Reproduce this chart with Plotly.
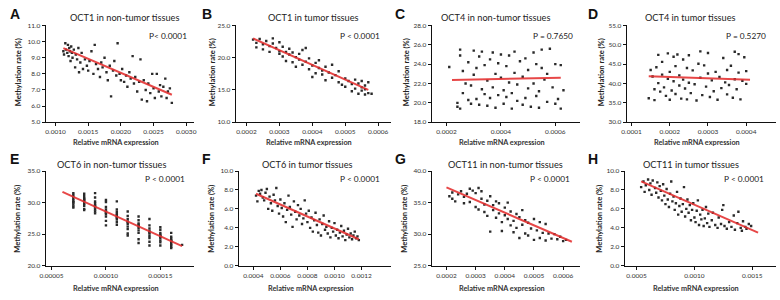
import plotly.graph_objects as go

W, H = 780, 300
FONT = "Lato"

# ---------------- data ----------------
A_pts = [(0.00112,9.4),(0.00113,9.2),(0.00115,9.9),(0.00116,9.5),(0.00118,9.3),(0.00119,9.8),(0.00120,9.1),
         (0.00121,9.6),(0.00122,9.4),(0.00123,8.8),(0.00124,9.7),(0.00125,9.3),(0.00126,9.0),(0.00128,9.5),
         (0.00130,8.4),(0.00131,9.2),(0.00133,8.9),(0.00135,9.6),(0.00136,8.1),(0.00138,8.7),(0.00140,9.3),
         (0.00142,8.3),(0.00145,8.9),(0.00148,8.5),(0.00150,8.2),(0.00152,8.8),(0.00155,9.4),(0.00158,8.0),
         (0.00160,9.8),(0.00162,8.6),(0.00165,8.3),(0.00168,7.8),(0.00170,8.7),(0.00172,8.4),(0.00175,9.0),
         (0.00178,8.1),(0.00180,7.6),(0.00183,8.5),(0.00185,6.6),(0.00188,8.2),(0.00190,8.8),(0.00193,7.9),
         (0.00195,9.9),(0.00198,8.0),(0.00200,7.6),(0.00202,8.3),(0.00205,7.5),(0.00208,7.9),(0.00210,7.2),
         (0.00213,8.1),(0.00215,7.7),(0.00218,9.1),(0.00220,7.4),(0.00222,7.8),(0.00225,6.9),(0.00228,7.5),
         (0.00230,8.9),(0.00232,6.4),(0.00235,7.6),(0.00238,7.0),(0.00240,6.3),(0.00242,7.4),(0.00245,6.8),
         (0.00248,8.0),(0.00250,7.1),(0.00252,6.5),(0.00255,8.0),(0.00258,6.9),(0.00260,7.3),(0.00262,6.6),
         (0.00265,7.2),(0.00268,7.7),(0.00270,6.5),(0.00272,6.9),(0.00275,7.1),(0.00278,6.2)]
A_fit_x = [0.00112, 0.00278]
A_fit_y = [9.6, 6.7]

B_pts = [(0.00022,22.8),(0.00023,22.3),(0.00023,21.6),(0.00024,22.9),(0.00025,22.1),(0.00025,21.3),(0.00026,22.6),
         (0.00027,21.8),(0.00027,20.9),(0.00028,23.0),(0.00028,22.2),(0.00029,21.5),(0.00030,20.6),(0.00030,22.4),
         (0.00030,21.0),(0.00031,20.2),(0.00031,21.7),(0.00032,19.5),(0.00032,20.9),(0.00033,21.4),(0.00033,20.5),
         (0.00034,19.3),(0.00034,20.8),(0.00035,20.1),(0.00035,18.6),(0.00036,19.7),(0.00036,20.6),(0.00037,21.2),
         (0.00037,18.9),(0.00038,19.4),(0.00038,21.5),(0.00039,18.2),(0.00039,19.9),(0.00040,17.0),(0.00040,18.8),
         (0.00041,19.2),(0.00041,17.6),(0.00042,18.4),(0.00042,19.6),(0.00043,17.4),(0.00043,18.0),(0.00044,16.5),
         (0.00044,18.6),(0.00045,17.7),(0.00046,18.9),(0.00046,16.9),(0.00047,17.3),(0.00048,16.2),(0.00048,17.9),
         (0.00049,15.8),(0.00050,16.8),(0.00050,15.5),(0.00051,16.4),(0.00052,14.8),(0.00052,15.9),(0.00053,16.6),
         (0.00053,15.2),(0.00054,14.4),(0.00054,16.0),(0.00055,15.4),(0.00055,14.9),(0.00055,16.4),(0.00056,14.3),
         (0.00056,15.7),(0.00056,15.1),(0.00057,14.5),(0.00057,16.2),(0.00058,14.4)]
B_fit_x = [0.00022, 0.00057]
B_fit_y = [23.0, 15.0]

C_pts = [(0.00021,23.7),(0.00024,20.0),(0.00024,19.6),(0.00025,19.4),(0.00025,24.9),(0.00025,25.5),(0.00026,23.3),
         (0.00026,21.0),(0.00027,22.0),(0.00028,24.2),(0.00028,20.3),(0.00029,21.8),(0.00029,19.9),(0.00030,25.4),
         (0.00030,22.9),(0.00031,20.4),(0.00031,23.6),(0.00032,19.8),(0.00032,24.8),(0.00033,21.4),(0.00033,25.3),
         (0.00034,20.9),(0.00034,23.9),(0.00035,19.7),(0.00035,22.3),(0.00036,24.5),(0.00036,20.5),(0.00037,25.2),
         (0.00037,21.6),(0.00038,23.0),(0.00038,19.5),(0.00039,24.1),(0.00039,20.8),(0.00040,22.6),(0.00040,25.0),
         (0.00041,21.3),(0.00041,19.9),(0.00042,23.8),(0.00042,20.6),(0.00043,24.9),(0.00043,22.1),(0.00044,19.4),
         (0.00044,21.0),(0.00045,25.3),(0.00045,23.1),(0.00046,20.2),(0.00046,21.9),(0.00047,24.3),(0.00048,19.8),
         (0.00048,22.7),(0.00049,24.6),(0.00049,20.5),(0.00050,21.5),(0.00050,23.4),(0.00051,19.6),(0.00052,25.2),
         (0.00052,22.0),(0.00053,20.7),(0.00053,24.0),(0.00054,21.2),(0.00054,19.5),(0.00055,23.6),(0.00055,25.5),
         (0.00056,22.4),(0.00057,20.1),(0.00057,23.0),(0.00058,25.6),(0.00059,21.6),(0.00060,19.9),(0.00060,24.0),
         (0.00061,20.4),(0.00062,23.9),(0.00062,19.4),(0.00063,21.3)]
C_fit_x = [0.00022, 0.00062]
C_fit_y = [22.35, 22.6]

D_pts = [(0.000145,36.2),(0.000150,43.5),(0.000155,41.8),(0.000160,38.5),(0.000160,35.7),(0.000165,44.2),
         (0.000170,47.4),(0.000170,40.1),(0.000175,37.9),(0.000180,45.6),(0.000180,42.3),(0.000185,39.0),
         (0.000190,36.8),(0.000195,47.8),(0.000195,41.2),(0.000200,35.8),(0.000200,43.0),(0.000205,38.2),
         (0.000210,46.9),(0.000210,40.6),(0.000215,44.5),(0.000215,37.3),(0.000220,47.5),(0.000225,42.1),
         (0.000225,39.5),(0.000230,36.1),(0.000235,46.2),(0.000235,41.0),(0.000240,38.7),(0.000245,44.0),
         (0.000245,35.9),(0.000250,47.3),(0.000250,40.2),(0.000255,37.5),(0.000260,43.4),(0.000265,39.8),
         (0.000270,35.6),(0.000275,45.1),(0.000280,48.3),(0.000280,41.5),(0.000285,37.0),(0.000290,44.7),
         (0.000295,39.2),(0.000300,47.9),(0.000300,42.6),(0.000305,36.5),(0.000310,40.8),(0.000315,38.0),
         (0.000320,43.0),(0.000325,35.8),(0.000330,41.7),(0.000335,38.8),(0.000340,46.6),(0.000345,40.3),
         (0.000350,43.5),(0.000350,37.2),(0.000355,39.6),(0.000360,44.6),(0.000365,36.3),(0.000370,48.2),
         (0.000370,41.1),(0.000375,38.5),(0.000380,47.6),(0.000380,42.8),(0.000385,35.9),(0.000390,40.7),
         (0.000395,46.8),(0.000400,39.9),(0.000400,43.2)]
D_fit_x = [0.000145, 0.00041]
D_fit_y = [41.9, 41.0]

E_cols = [0.00007, 0.00008, 0.00009, 0.00010, 0.00011, 0.00012, 0.00013, 0.00014, 0.00015, 0.00016]
E_vals = [[31.2, 30.9, 30.6, 30.3, 30.0, 29.7, 29.4, 31.5, 30.1, 29.2],
          [31.4, 31.0, 30.7, 30.4, 30.1, 29.8, 29.5, 29.0, 28.8, 30.5],
          [31.5, 30.8, 30.2, 29.9, 29.6, 29.2, 28.9, 28.6, 28.3, 29.4],
          [30.4, 30.1, 29.3, 28.9, 28.6, 28.2, 27.8, 27.1, 26.4, 28.4],
          [30.2, 28.9, 28.5, 28.0, 27.6, 27.3, 26.9, 26.5, 27.7, 28.2],
          [28.6, 27.9, 27.4, 27.0, 26.6, 26.2, 25.8, 25.1, 24.8, 26.9],
          [27.8, 27.2, 26.7, 26.3, 26.0, 25.6, 25.2, 24.2, 23.6, 26.5],
          [27.4, 26.4, 25.9, 25.5, 25.1, 24.7, 24.4, 23.8, 23.2, 25.3],
          [26.1, 25.7, 25.2, 24.8, 24.4, 24.0, 23.7, 23.2, 24.9, 24.6],
          [25.2, 24.6, 24.1, 23.8, 23.5, 23.3, 23.0, 22.8, 23.9, 24.3]]
E_extra = [(0.00017, 23.3)]
E_fit_x = [0.00006, 0.00017]
E_fit_y = [31.7, 23.1]

F_pts = [(0.00042,7.4),(0.00043,6.8),(0.00044,7.9),(0.00045,7.6),(0.00046,8.0),(0.00047,7.2),(0.00048,6.9),
         (0.00049,7.7),(0.00050,8.1),(0.00051,6.0),(0.00052,7.3),(0.00053,6.6),(0.00054,5.8),(0.00055,7.5),
         (0.00056,6.9),(0.00057,8.2),(0.00058,6.3),(0.00059,5.5),(0.00060,7.0),(0.00061,6.1),(0.00062,5.2),
         (0.00063,6.6),(0.00064,4.6),(0.00065,5.9),(0.00066,7.4),(0.00067,6.2),(0.00068,5.4),(0.00069,4.1),
         (0.00070,6.8),(0.00071,5.7),(0.00072,4.9),(0.00073,6.4),(0.00074,5.3),(0.00075,6.0),(0.00076,4.4),
         (0.00077,5.0),(0.00078,6.9),(0.00079,5.5),(0.00080,4.6),(0.00081,5.8),(0.00082,4.0),(0.00083,5.1),
         (0.00084,3.6),(0.00085,4.8),(0.00086,5.6),(0.00087,4.3),(0.00088,3.5),(0.00089,4.9),(0.00090,3.2),
         (0.00091,4.4),(0.00092,5.3),(0.00093,3.8),(0.00094,4.1),(0.00095,3.4),(0.00096,4.7),(0.00097,3.0),
         (0.00098,4.0),(0.00099,3.6),(0.00100,4.5),(0.00101,3.2),(0.00102,3.8),(0.00103,2.9),(0.00104,3.5),
         (0.00105,4.2),(0.00106,3.1),(0.00107,3.7),(0.00108,2.7),(0.00109,3.3),(0.00110,3.9),(0.00111,3.0),
         (0.00112,3.4),(0.00113,2.8),(0.00114,3.2),(0.00115,3.6),(0.00116,2.9),(0.00117,3.1),(0.00118,2.7)]
F_fit_x = [0.00042, 0.00118]
F_fit_y = [7.6, 2.8]

G_pts = [(0.00021,36.0),(0.00022,35.6),(0.00022,36.6),(0.00023,35.2),(0.00024,36.3),(0.00025,36.8),(0.00026,35.9),
         (0.00026,34.9),(0.00027,36.4),(0.00028,37.2),(0.00028,35.1),(0.00029,36.9),(0.00030,34.3),(0.00030,36.5),
         (0.00031,37.3),(0.00031,33.9),(0.00032,35.6),(0.00032,36.8),(0.00033,33.5),(0.00033,34.7),(0.00034,32.9),
         (0.00034,35.3),(0.00035,30.4),(0.00035,36.0),(0.00036,33.8),(0.00036,34.6),(0.00037,35.2),(0.00037,32.6),
         (0.00038,33.3),(0.00038,34.9),(0.00039,31.9),(0.00039,30.5),(0.00040,34.2),(0.00040,33.0),(0.00041,35.0),
         (0.00041,32.4),(0.00042,31.4),(0.00042,33.6),(0.00043,30.3),(0.00043,32.1),(0.00044,33.2),(0.00044,31.0),
         (0.00045,29.4),(0.00045,32.7),(0.00046,31.5),(0.00046,33.8),(0.00047,30.1),(0.00047,32.2),(0.00048,31.8),
         (0.00048,29.8),(0.00049,30.9),(0.00050,32.4),(0.00050,29.1),(0.00051,30.6),(0.00052,31.9),(0.00052,29.4),
         (0.00053,30.2),(0.00054,31.6),(0.00054,29.0),(0.00055,30.1),(0.00056,29.3),(0.00057,30.0),(0.00058,29.2),
         (0.00059,29.6),(0.00060,28.9),(0.00061,29.1)]
G_fit_x = [0.00020, 0.00063]
G_fit_y = [37.4, 28.8]

H_pts = [(0.00054,8.3),(0.00056,8.9),(0.00057,7.8),(0.00058,8.5),(0.00060,9.1),(0.00061,8.0),(0.00062,8.7),
         (0.00063,7.5),(0.00064,9.0),(0.00066,8.2),(0.00067,7.7),(0.00068,8.8),(0.00069,7.2),(0.00070,8.4),
         (0.00071,7.9),(0.00072,6.9),(0.00073,8.6),(0.00074,7.4),(0.00075,6.5),(0.00076,8.1),(0.00077,7.0),
         (0.00078,6.2),(0.00079,7.6),(0.00080,8.9),(0.00081,6.8),(0.00082,7.3),(0.00083,5.9),(0.00084,6.6),
         (0.00085,7.8),(0.00086,5.4),(0.00087,6.3),(0.00088,7.1),(0.00089,5.7),(0.00090,6.5),(0.00091,8.3),
         (0.00092,5.2),(0.00093,6.0),(0.00094,7.0),(0.00095,5.6),(0.00096,6.4),(0.00097,4.8),(0.00098,5.9),
         (0.00099,6.6),(0.00100,5.1),(0.00101,4.6),(0.00102,5.8),(0.00103,6.9),(0.00104,4.3),(0.00105,5.4),
         (0.00106,4.9),(0.00107,5.9),(0.00108,4.2),(0.00109,5.0),(0.00110,6.2),(0.00111,4.5),(0.00112,5.5),
         (0.00113,4.1),(0.00115,4.8),(0.00116,5.6),(0.00118,4.3),(0.00120,4.0),(0.00121,5.1),(0.00123,4.4),
         (0.00124,5.9),(0.00125,6.4),(0.00126,4.2),(0.00128,3.9),(0.00130,4.6),(0.00132,4.1),(0.00134,5.3),
         (0.00135,3.8),(0.00137,4.5),(0.00138,5.7),(0.00140,4.0),(0.00141,3.7),(0.00142,4.7),(0.00144,4.1),
         (0.00145,3.9),(0.00147,4.4),(0.00149,4.2)]
H_fit_x = [0.00054, 0.00155]
H_fit_y = [8.9, 3.5]

# tick values / labels
A_xticks = [0.0010, 0.0015, 0.0020, 0.0025, 0.0030]
A_xtext = ["0.0010", "0.0015", "0.0020", "0.0025", "0.0030"]
A_yticks = [5, 6, 7, 8, 9, 10, 11]
B_xticks = [0.0002, 0.0003, 0.0004, 0.0005, 0.0006]
B_xtext = ["0.0002", "0.0003", "0.0004", "0.0005", "0.0006"]
B_yticks = [10, 15, 20, 25]
C_xticks = [0.0002, 0.0004, 0.0006]
C_xtext = ["0.0002", "0.0004", "0.0006"]
C_yticks = [18, 20, 22, 24, 26, 28]
D_xticks = [0.0001, 0.0002, 0.0003, 0.0004]
D_xtext = ["0.0001", "0.0002", "0.0003", "0.0004"]
D_yticks = [30, 35, 40, 45, 50, 55]
E_xticks = [0.00005, 0.00010, 0.00015]
E_xtext = ["0.00005", "0.00010", "0.00015"]
E_yticks = [20, 25, 30, 35]
F_xticks = [0.0004, 0.0006, 0.0008, 0.0010, 0.0012]
F_xtext = ["0.0004", "0.0006", "0.0008", "0.0010", "0.0012"]
F_yticks = [0, 2, 4, 6, 8, 10]
G_xticks = [0.0002, 0.0003, 0.0004, 0.0005, 0.0006]
G_xtext = ["0.0002", "0.0003", "0.0004", "0.0005", "0.0006"]
G_yticks = [25, 30, 35, 40]
H_xticks = [0.0005, 0.0010, 0.0015]
H_xtext = ["0.0005", "0.0010", "0.0015"]
H_yticks = [0, 2, 4, 6, 8, 10]

titles = ["OCT1 in non-tumor tissues", "OCT1 in tumor tissues", "OCT4 in non-tumor tissues", "OCT4 in tumor tissues",
          "OCT6 in non-tumor tissues", "OCT6 in tumor tissues", "OCT11 in non-tumor tissues", "OCT11 in tumor tissues"]
pvals = ["P< 0.0001", "P < 0.0001", "P = 0.7650", "P = 0.5270",
         "P < 0.0001", "P < 0.0001", "P < 0.0001", "P < 0.0001"]
letters = ["A", "B", "C", "D", "E", "F", "G", "H"]

E_pts = [(cx, v) for cx, vals in zip(E_cols, E_vals) for v in vals] + E_extra

# ---------------- layout (pixel geometry) ----------------
panels = [
    dict(pts=A_pts, fx=A_fit_x, fy=A_fit_y, xpx=(40, 190), row=0, xr=[0.000848, 0.00312], xt=A_xticks, xtt=A_xtext, yr=[5, 11], yt=A_yticks, tcx=120, prx=185, ytx=12, lx=2),
    dict(pts=B_pts, fx=B_fit_x, fy=B_fit_y, xpx=(232, 389), row=0, xr=[0.000167, 0.000639], xt=B_xticks, xtt=B_xtext, yr=[10, 25], yt=B_yticks, tcx=311, prx=380, ytx=208, lx=196),
    dict(pts=C_pts, fx=C_fit_x, fy=C_fit_y, xpx=(430, 580), row=0, xr=[0.000145, 0.000691], xt=C_xticks, xtt=C_xtext, yr=[18, 28], yt=C_yticks, tcx=495, prx=575, ytx=405, lx=391),
    dict(pts=D_pts, fx=D_fit_x, fy=D_fit_y, xpx=(627, 778), row=0, xr=[0.000087, 0.000478], xt=D_xticks, xtt=D_xtext, yr=[30, 55], yt=D_yticks, tcx=692, prx=770, ytx=602, lx=586),
    dict(pts=E_pts, fx=E_fit_x, fy=E_fit_y, xpx=(40, 190), row=1, xr=[0.0000445, 0.000181], xt=E_xticks, xtt=E_xtext, yr=[20, 35], yt=E_yticks, tcx=107, prx=183, ytx=12, lx=2),
    dict(pts=F_pts, fx=F_fit_x, fy=F_fit_y, xpx=(235, 389), row=1, xr=[0.000291, 0.001418], xt=F_xticks, xtt=F_xtext, yr=[0, 10], yt=F_yticks, tcx=305, prx=380, ytx=208, lx=196),
    dict(pts=G_pts, fx=G_fit_x, fy=G_fit_y, xpx=(430, 580), row=1, xr=[0.000149, 0.000658], xt=G_xticks, xtt=G_xtext, yr=[25, 40], yt=G_yticks, tcx=505, prx=572, ytx=403, lx=391),
    dict(pts=H_pts, fx=H_fit_x, fy=H_fit_y, xpx=(625, 778), row=1, xr=[0.000397, 0.001705], xt=H_xticks, xtt=H_xtext, yr=[0, 10], yt=H_yticks, tcx=692, prx=768, ytx=600, lx=586),
]
ROWS = [dict(top=22, bot=121, ttl=14, pv=33, xl=142, yc=70, let=10),
        dict(top=171, bot=268, ttl=164, pv=179, xl=291, yc=220, let=159)]

def fx_(x): return x / W
def fy_(y): return 1 - y / H

fig = go.Figure()
layout = dict(width=W, height=H, margin=dict(l=0, r=0, t=0, b=0), paper_bgcolor="white",
              plot_bgcolor="white", showlegend=False, font=dict(family=FONT, color="#222"))
annotations = []

for i, p in enumerate(panels):
    n = i + 1
    sfx = "" if n == 1 else str(n)
    r = ROWS[p["row"]]
    xs = [q[0] for q in p["pts"]]
    ys = [q[1] for q in p["pts"]]
    fig.add_trace(go.Scatter(x=xs, y=ys, mode="markers", xaxis="x" + sfx, yaxis="y" + sfx,
                             marker=dict(symbol="square", size=2.4, color="#2a2a2a", line=dict(width=0)),
                             hoverinfo="skip"))
    fig.add_trace(go.Scatter(x=p["fx"], y=p["fy"], mode="lines", xaxis="x" + sfx, yaxis="y" + sfx,
                             line=dict(color="rgba(228,45,45,0.88)", width=2), hoverinfo="skip"))
    common = dict(showgrid=False, zeroline=False, showline=True, linecolor="#111", linewidth=1,
                  ticks="outside", ticklen=3, tickwidth=1, tickcolor="#111",
                  tickfont=dict(family=FONT, size=6.5, color="#333"))
    layout["xaxis" + sfx] = dict(common, domain=[fx_(p["xpx"][0]), fx_(p["xpx"][1])], range=p["xr"],
                                 anchor="y" + sfx, tickvals=p["xt"], ticktext=p["xtt"])
    layout["yaxis" + sfx] = dict(common, domain=[fy_(r["bot"]), fy_(r["top"])], range=p["yr"],
                                 anchor="x" + sfx, tickvals=p["yt"],
                                 ticktext=["%.1f" % v for v in p["yt"]])
    cx = (p["xpx"][0] + p["xpx"][1]) / 2
    annotations += [
        dict(text=titles[i], x=fx_(p["tcx"]), y=fy_(r["ttl"]), xref="paper", yref="paper",
             showarrow=False, xanchor="center", yanchor="middle", font=dict(family=FONT, size=9.2, color="#222")),
        dict(text=pvals[i], x=fx_(p["prx"]), y=fy_(r["pv"]), xref="paper", yref="paper",
             showarrow=False, xanchor="right", yanchor="middle", font=dict(family=FONT, size=8.3, color="#222")),
        dict(text="<b>" + letters[i] + "</b>", x=fx_(p["lx"]), y=fy_(r["let"]), xref="paper", yref="paper",
             showarrow=False, xanchor="left", yanchor="middle", font=dict(family="Liberation Sans", size=14, color="#111")),
        dict(text="<b>Methylation rate (%)</b>", x=fx_(p["ytx"]), y=fy_(r["yc"]), xref="paper", yref="paper",
             showarrow=False, textangle=-90, xanchor="center", yanchor="middle",
             font=dict(family=FONT, size=7.5, color="#222")),
        dict(text="<b>Relative mRNA expression</b>", x=fx_(cx - 4), y=fy_(r["xl"]), xref="paper", yref="paper",
             showarrow=False, xanchor="center", yanchor="middle", font=dict(family=FONT, size=7.3, color="#333")),
    ]

layout["annotations"] = annotations
fig.update_layout(**layout)
fig.write_html("out.html", config={"displayModeBar": False, "staticPlot": True},
               post_script="document.body.style.margin='0';document.body.style.padding='0';")
